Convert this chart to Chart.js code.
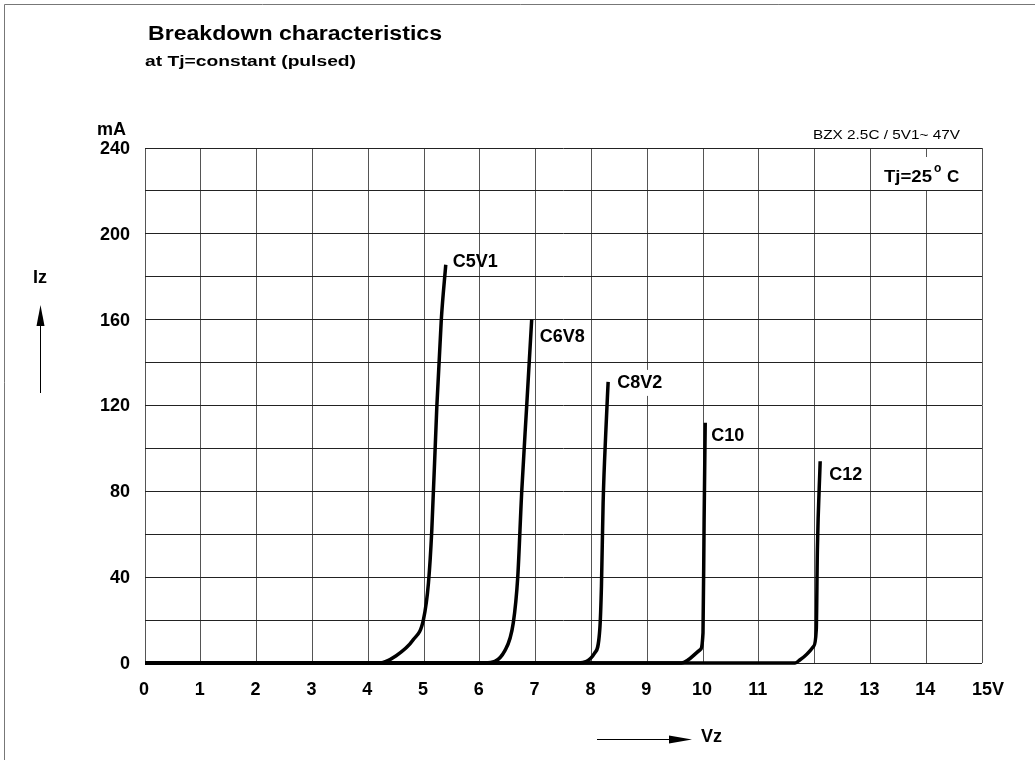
<!DOCTYPE html>
<html>
<head>
<meta charset="utf-8">
<title>Breakdown characteristics</title>
<script src="https://cdn.jsdelivr.net/npm/chart.js@4"></script>
<style>
  html, body { margin: 0; padding: 0; background: #fff; }
  #wrap { width: 1035px; height: 760px; position: relative; }
</style>
</head>
<body>
<div id="wrap"><canvas id="chart" width="1035" height="760"></canvas></div>
<script>
// axis ticks
const vzTicks = [0, 1, 2, 3, 4, 5, 6, 7, 8, 9, 10, 11, 12, 13, 14, 15];
const izTicks = [0, 40, 80, 120, 160, 200, 240];

// curves (Vz in volts, Iz in mA)
const curveNames = ['C5V1', 'C6V8', 'C8V2', 'C10', 'C12'];
const c5v1Vz = [0, 4.21, 4.48, 4.81, 4.99, 5.08, 5.14, 5.23, 5.31, 5.39];
const c5v1Iz = [0, 0, 3, 10.9, 20.2, 37.3, 62, 119.6, 160, 185.6];
const c6v8Vz = [0, 6.09, 6.45, 6.60, 6.68, 6.75, 6.84, 6.93];
const c6v8Iz = [0, 0, 5.8, 18.7, 40, 79.2, 119.6, 160];
const c8v2Vz = [0, 7.77, 8.06, 8.15, 8.18, 8.21, 8.26, 8.30];
const c8v2Iz = [0, 0, 4.7, 15.5, 35.7, 74.6, 108.7, 131];
const c10Vz = [0, 9.61, 9.95, 10.0, 10.02, 10.04];
const c10Iz = [0, 0, 6.2, 14, 66.8, 112];
const c12Vz = [0, 11.65, 11.74, 11.98, 12.03, 12.05, 12.1];
const c12Iz = [0, 0, 1.5, 7.7, 15.5, 52.8, 94];

const curveVz = [c5v1Vz, c6v8Vz, c8v2Vz, c10Vz, c12Vz];
const curveIz = [c5v1Iz, c6v8Iz, c8v2Iz, c10Iz, c12Iz];

// label placement next to the top of each curve (pixel offsets)
const labelOffsets = [[7, -3], [8, 17], [9, 1], [6, 13], [9, 14]];
const labelBg = [false, false, true, false, false];

const FONT = '"Liberation Sans", Arial, Helvetica, sans-serif';

function zip(xs, ys) {
    return xs.map((x, i) => ({ x: x, y: ys[i] }));
}

function fitText(ctx, text, x, y, font, width) {
    ctx.save();
    ctx.font = font;
    const w = ctx.measureText(text).width;
    ctx.translate(x, y);
    if (width) ctx.scale(width / w, 1);
    ctx.fillText(text, 0, 0);
    ctx.restore();
}

const decor = {
    id: 'decor',
    beforeDraw(chart) {
        const ctx = chart.ctx;
        ctx.save();
        ctx.fillStyle = '#fff';
        ctx.fillRect(0, 0, chart.width, chart.height);
        ctx.restore();
    },
    afterDraw(chart) {
        const ctx = chart.ctx;
        const xs = chart.scales.x, ys = chart.scales.y;
        ctx.save();

        // outer frame
        ctx.strokeStyle = '#777';
        ctx.lineWidth = 1;
        ctx.beginPath();
        ctx.moveTo(4.5, chart.height + 5);
        ctx.lineTo(4.5, 4.5);
        ctx.lineTo(chart.width + 5, 4.5);
        ctx.stroke();

        ctx.fillStyle = '#000';
        ctx.textBaseline = 'alphabetic';
        ctx.textAlign = 'left';
        fitText(ctx, 'Breakdown characteristics', 148, 40, 'bold 20px ' + FONT, 294);
        fitText(ctx, 'at Tj=constant (pulsed)', 145, 66, 'bold 15px ' + FONT, 211);
        fitText(ctx, 'BZX 2.5C / 5V1~ 47V', 813, 139, '13px ' + FONT, 147);

        // Tj box
        ctx.fillStyle = '#fff';
        ctx.fillRect(880, 157, 96, 33);
        ctx.fillStyle = '#000';
        fitText(ctx, 'Tj=25', 884, 182, 'bold 17px ' + FONT, 48);
        ctx.font = 'bold 12px ' + FONT;
        ctx.fillText('o', 934, 172);
        ctx.font = 'bold 17px ' + FONT;
        ctx.fillText('C', 947, 182);

        // y tick labels
        ctx.font = 'bold 18px ' + FONT;
        ctx.textAlign = 'right';
        ctx.textBaseline = 'middle';
        izTicks.forEach(v => ctx.fillText(String(v), 130, ys.getPixelForValue(v) + 1));
        ctx.textAlign = 'left';
        ctx.fillText('mA', 97, 130);

        // x tick labels
        ctx.textAlign = 'center';
        vzTicks.forEach(v => {
            const t = v === 15 ? '15V' : String(v);
            const dx = v === 15 ? 6 : -1;
            ctx.fillText(t, xs.getPixelForValue(v) + dx, 690);
        });

        // axis names with arrows
        ctx.textAlign = 'left';
        ctx.fillText('Iz', 33, 278);
        ctx.fillText('Vz', 701, 737);
        ctx.lineWidth = 1;
        ctx.strokeStyle = '#000';
        ctx.beginPath();
        ctx.moveTo(40.5, 393);
        ctx.lineTo(40.5, 322);
        ctx.moveTo(597, 739.5);
        ctx.lineTo(672, 739.5);
        ctx.stroke();
        ctx.beginPath();
        ctx.moveTo(40.5, 305);
        ctx.lineTo(36.5, 326);
        ctx.lineTo(44.5, 326);
        ctx.closePath();
        ctx.fill();
        ctx.beginPath();
        ctx.moveTo(692, 739.5);
        ctx.lineTo(669, 735.5);
        ctx.lineTo(669, 743.5);
        ctx.closePath();
        ctx.fill();

        // curve labels
        ctx.font = 'bold 18px ' + FONT;
        ctx.textBaseline = 'middle';
        curveNames.forEach((name, i) => {
            const pts = chart.getDatasetMeta(i).data;
            const p = pts[pts.length - 1];
            const lx = p.x + labelOffsets[i][0];
            const ly = p.y + labelOffsets[i][1];
            if (labelBg[i]) {
                const w = ctx.measureText(name).width;
                ctx.fillStyle = '#fff';
                ctx.fillRect(lx - 2, ly - 13, w + 6, 26);
            }
            ctx.fillStyle = '#000';
            ctx.fillText(name, lx, ly);
        });

        ctx.restore();
    }
};

const datasets = curveNames.map((name, i) => ({
    label: name,
    data: zip(curveVz[i], curveIz[i]),
    borderColor: '#000',
    borderWidth: 3.5,
    pointRadius: 0,
    fill: false,
    showLine: true,
    cubicInterpolationMode: 'monotone',
    clip: 6
}));

new Chart(document.getElementById('chart'), {
    type: 'scatter',
    data: { datasets: datasets },
    plugins: [decor],
    options: {
        responsive: false,
        animation: false,
        devicePixelRatio: 1,
        layout: { padding: { left: 145, top: 148, right: 53, bottom: 97 } },
        plugins: { legend: { display: false }, tooltip: { enabled: false } },
        scales: {
            x: {
                type: 'linear',
                min: 0,
                max: 15,
                ticks: { display: false, stepSize: 1 },
                grid: { color: '#555', lineWidth: 1, drawTicks: false },
                border: { display: false }
            },
            y: {
                type: 'linear',
                min: 0,
                max: 240,
                ticks: { display: false, stepSize: 20 },
                grid: { color: '#222', lineWidth: 1, drawTicks: false },
                border: { display: false }
            }
        }
    }
});
</script>
</body>
</html>
